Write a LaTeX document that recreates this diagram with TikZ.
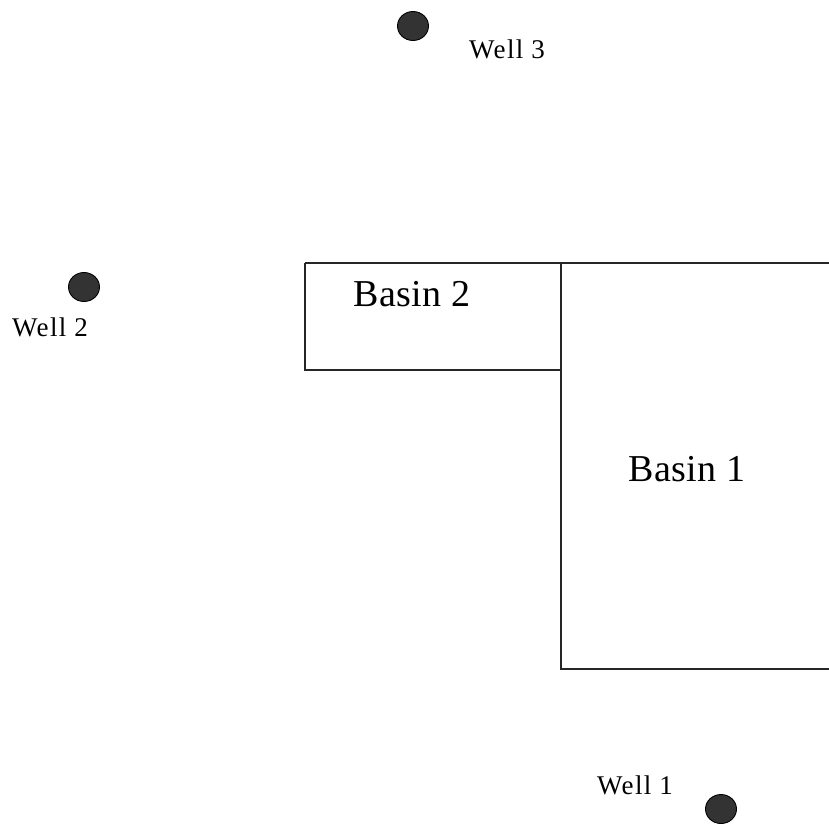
\documentclass[tikz,border=0pt]{standalone}
\usepackage{fontspec}
\usetikzlibrary{shapes.geometric}
\setmainfont{Liberation Serif}
\begin{document}
\begin{tikzpicture}[x=1pt,y=-1pt,
  basinline/.style={line width=1.3pt,draw=black!85},
  wellmark/.style={ellipse,draw=black,line width=0.9pt,fill=black!80,
    minimum width=31pt,minimum height=29pt,inner sep=0pt},
  welltext/.style={anchor=base,inner sep=0pt,
    font=\fontsize{27}{30}\selectfont\addfontfeature{LetterSpace=5}},
  basintext/.style={anchor=base,inner sep=0pt,
    font=\fontsize{38}{44}\selectfont\addfontfeature{LetterSpace=1}}]
  \useasboundingbox (0,0) rectangle (829,825);
  % basins
  \draw[basinline] (305,263) -- (829,263);
  \draw[basinline] (305,263) -- (305,370) -- (561,370);
  \draw[basinline] (561,263) -- (561,669) -- (829,669);
  \node[basintext] (b2) at (412,306) {Basin 2};
  \node[basintext] (b1) at (687,481) {Basin 1};
  % wells
  \node[wellmark] (w3) at (413,26) {};
  \node[welltext] (w3t) at (507,58) {Well 3};
  \node[wellmark] (w2) at (84,287) {};
  \node[welltext] (w2t) at (50,336) {Well 2};
  \node[wellmark] (w1) at (721,809) {};
  \node[welltext] (w1t) at (635,794) {Well 1};
\end{tikzpicture}
\end{document}
